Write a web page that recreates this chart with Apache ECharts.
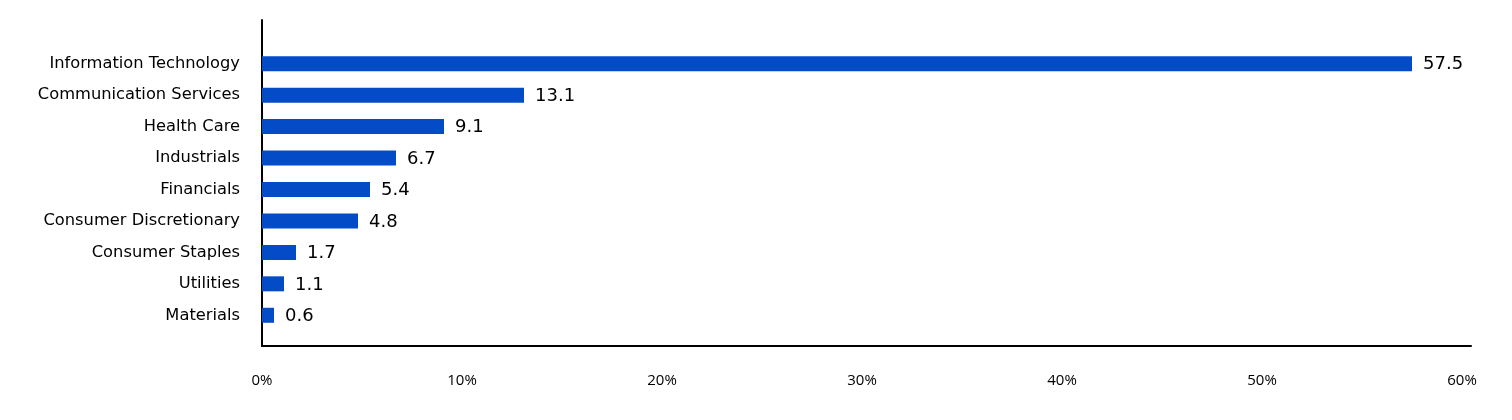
<!DOCTYPE html>
<html><head><meta charset="utf-8">
<script src="https://cdn.jsdelivr.net/npm/echarts@6/dist/echarts.min.js"></script>
<style>html,body{margin:0;padding:0;background:#fff}#c{width:1512px;height:420px}</style>
</head><body><div id="c"></div>
<script>
const categories = ["Information Technology","Communication Services","Health Care","Industrials","Financials","Consumer Discretionary","Consumer Staples","Utilities","Materials"];
const values = [57.5,13.1,9.1,6.7,5.4,4.8,1.7,1.1,0.6];
const xTicks = [0,10,20,30,40,50,60];

const chart = echarts.init(document.getElementById('c'));
const font = '"DejaVu Sans", Verdana, sans-serif';
chart.setOption({
  animation:false,
  grid:[
    {left:262, right:41, top:20, bottom:74},
    {left:262, width:1200, top:48, height:283}
  ],
  xAxis:[
    {gridIndex:0,type:'value',min:0,max:60.45,interval:10,
     axisLine:{show:true,lineStyle:{color:'#000',width:2}},axisTick:{show:false},splitLine:{show:false},
     axisLabel:{margin:27,fontSize:15,color:'#000',fontFamily:'"Open Sans", "Noto Sans", sans-serif',
       formatter:v=>xTicks.includes(v)?v+'%':''}},
    {gridIndex:1,type:'value',min:0,max:60,show:false}
  ],
  yAxis:[
    {gridIndex:0,type:'category',data:[],axisLine:{show:true,lineStyle:{color:'#000',width:2}},axisTick:{show:false},axisLabel:{show:false}},
    {gridIndex:1,type:'category',inverse:true,data:categories,
     axisLine:{show:false},axisTick:{show:false},
     axisLabel:{margin:22,fontSize:16.3,color:'#000',fontFamily:font}}
  ],
  series:[{
    type:'bar',xAxisIndex:1,yAxisIndex:1,data:values,barWidth:15,
    itemStyle:{color:'#044bc7'},
    label:{show:true,position:'right',distance:11,offset:[0,1],fontSize:18,color:'#000',fontFamily:font,formatter:p=>p.value.toFixed(1)}
  }]
});
</script></body></html>
